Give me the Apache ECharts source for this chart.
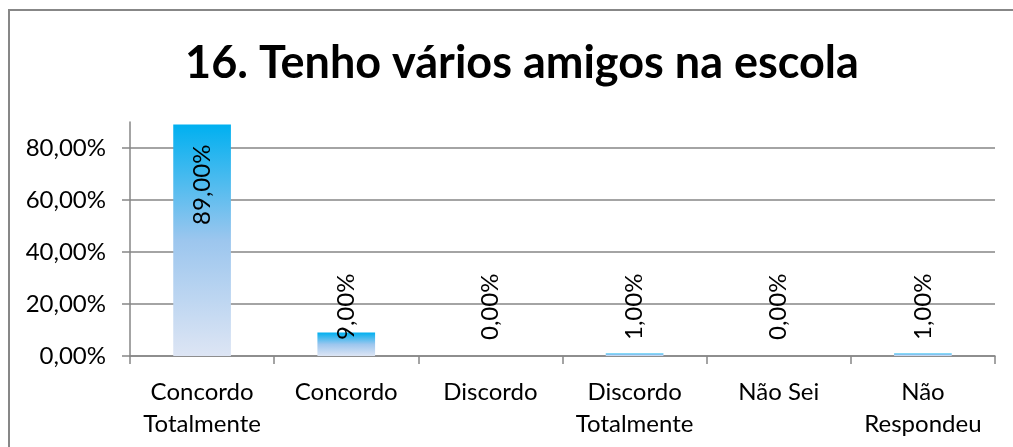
<!DOCTYPE html>
<html>
<head>
<meta charset="utf-8">
<script src="https://cdn.jsdelivr.net/npm/echarts@6/dist/echarts.min.js"></script>
<style>
  html, body { margin: 0; padding: 0; background: #fff; }
  #main { width: 1013px; height: 447px; }
</style>
</head>
<body>
<div id="main"></div>
<script>
// dados do gráfico
var categorias = ["Concordo\nTotalmente", "Concordo", "Discordo", "Discordo\nTotalmente", "Não Sei", "Não\nRespondeu"];
var percentuais = [89, 9, 0, 1, 0, 1];
var titulo = "16. Tenho vários amigos na escola";

var fonte = "Lato";
var myChart = echarts.init(document.getElementById("main"));

function fmt(v) {
  return v.toFixed(2).replace(".", ",") + "%";
}

var gradiente = new echarts.graphic.LinearGradient(0, 0, 0, 1, [
  { offset: 0, color: "#00b0f0" },
  { offset: 0.5, color: "#9cc6ee" },
  { offset: 1, color: "#dde5f4" }
]);

var dados = percentuais.map(function (v, i) {
  var item = { value: v };
  // o rótulo grande fica dentro da barra, perto do topo
  if (i === 0) {
    item.label = { position: "insideTop", distance: 20, align: "right" };
  }
  return item;
});

var option = {
  animation: false,
  title: {
    text: titulo,
    left: 517,
    top: 36,
    textAlign: "center",
    textStyle: { fontFamily: fonte, fontWeight: "bold", fontSize: 45, color: "#000" }
  },
  graphic: [
    {
      type: "rect",
      shape: { x: 9, y: 10, width: 1020, height: 460 },
      style: { fill: "none", stroke: "#878787", lineWidth: 2 },
      silent: true
    }
  ],
  grid: { left: 130, right: 18, top: 122, bottom: 91 },
  xAxis: {
    type: "category",
    data: categorias,
    axisLine: { lineStyle: { color: "#868686", width: 1.5 } },
    axisTick: { show: true, length: 8, lineStyle: { color: "#868686", width: 1.5 } },
    axisLabel: {
      fontFamily: fonte, fontSize: 24, color: "#000", margin: 20, lineHeight: 32, interval: 0
    }
  },
  yAxis: {
    type: "value",
    min: 0,
    max: 90,
    interval: 20,
    axisLine: { show: true, lineStyle: { color: "#868686", width: 1.5 } },
    axisTick: { show: true, length: 8, lineStyle: { color: "#868686", width: 1.5 } },
    splitLine: { show: true, showMaxLine: false, lineStyle: { color: "#868686", width: 1.5 } },
    axisLabel: {
      fontFamily: fonte, fontSize: 24, color: "#000", margin: 24, showMaxLabel: false,
      formatter: function (v) { return fmt(v); }
    }
  },
  series: [
    {
      type: "bar",
      data: dados,
      barWidth: "40%",
      itemStyle: { color: gradiente },
      label: {
        show: true,
        position: "insideBottom",
        distance: 16,
        rotate: 90,
        align: "left",
        verticalAlign: "middle",
        fontFamily: fonte,
        fontSize: 24,
        color: "#000",
        formatter: function (p) { return fmt(p.value); }
      }
    }
  ]
};

option && myChart.setOption(option);
</script>
</body>
</html>
